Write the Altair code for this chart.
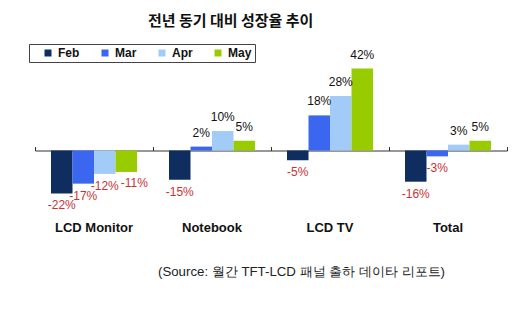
import altair as alt
import pandas as pd

categories = ["LCD Monitor", "Notebook", "LCD TV", "Total"]
months = ["Feb", "Mar", "Apr", "May"]
feb = [-22, -15, -5, -16]
mar = [-17, 2, 18, -3]
apr = [-12, 10, 28, 3]
may = [-11, 5, 42, 5]
colors = ["#0f2d5e", "#3a66f0", "#a3cbf8", "#99cc00"]

title_text = "전년 동기 대비 성장율 추이"
source_text = "(Source: 월간 TFT-LCD 패널 출하 데이타 리포트)"

rows = []
for m, vals in zip(months, [feb, mar, apr, may]):
    for c, v in zip(categories, vals):
        rows.append({"category": c, "month": m, "value": v, "label": f"{v}%"})
df = pd.DataFrame(rows)

H = 156
ymin, ymax = -30, 50
zero_px = H * ymax / (ymax - ymin)

xscale = alt.Scale(paddingInner=0, paddingOuter=0)
xoff = alt.XOffset("month:N", sort=months,
                   scale=alt.Scale(paddingInner=0, paddingOuter=0.744))
yenc = alt.Y("value:Q", scale=alt.Scale(domain=[ymin, ymax]), axis=None)

base = alt.Chart(df)

bars = base.mark_bar().encode(
    x=alt.X("category:N", sort=categories, scale=xscale, title=None,
            axis=alt.Axis(orient="top", labels=False, domain=True, ticks=True,
                          tickBand="extent", tickSize=4, offset=-zero_px,
                          domainColor="#333333", tickColor="#333333",
                          grid=False)),
    xOffset=xoff,
    y=yenc,
    color=alt.Color("month:N", sort=months,
                    scale=alt.Scale(domain=months, range=colors),
                    legend=alt.Legend(orient="none", legendX=-6, legendY=-9,
                                      direction="horizontal", title=None,
                                      symbolType="square", symbolSize=49,
                                      symbolStrokeWidth=0, symbolOffset=10,
                                      labelFont="Liberation Sans",
                                      labelFontSize=12, labelFontWeight="bold",
                                      labelColor="#111111",
                                      columnPadding=9, padding=3,
                                      strokeColor="#444444",
                                      fillColor="white")),
)

neg_text = base.transform_filter(
    "datum.value < 0 && !(datum.month == 'May')"
).mark_text(
    font="Liberation Sans", fontSize=12, color="#c83232",
    baseline="middle", dy=12
).encode(
    x=alt.X("category:N", sort=categories, scale=xscale,
            axis=alt.Axis(orient="bottom", domain=False, ticks=False,
                          labelPadding=12, labelFont="Liberation Sans",
                          labelFontSize=13, labelFontWeight="bold",
                          labelColor="#111111", labelAngle=0,
                          title=source_text, titleFont="Liberation Sans",
                          titleFontSize=13.25, titleFontWeight="normal",
                          titleColor="#222222", titlePadding=31, titleX=266,
                          grid=False)),
    xOffset=xoff,
    y=yenc,
    text="label:N",
)

neg_text_may = base.transform_filter(
    "datum.value < 0 && datum.month == 'May'"
).mark_text(
    font="Liberation Sans", fontSize=12, color="#c83232",
    baseline="middle", dy=11, dx=8
).encode(
    x=alt.X("category:N", sort=categories, scale=xscale, axis=None),
    xOffset=xoff,
    y=yenc,
    text="label:N",
)

pos_text = base.transform_filter("datum.value >= 0").mark_text(
    font="Liberation Sans", fontSize=12, color="#111111",
    baseline="middle", dy=-14
).encode(
    x=alt.X("category:N", sort=categories, scale=xscale, axis=None),
    xOffset=xoff,
    y=yenc,
    text="label:N",
)

chart = alt.layer(bars, neg_text, neg_text_may, pos_text).resolve_axis(
    x="independent"
).properties(
    width=472, height=H,
    autosize=alt.AutoSizeParams(type="none"),
    padding={"left": 35, "top": 53, "right": 13, "bottom": 121},
    background="white",
    title=alt.TitleParams(title_text, anchor="start", frame="group", dx=113,
                          offset=15, font="Noto Sans CJK KR", fontSize=15,
                          fontWeight="bold", color="#111111"),
).configure_view(stroke=None)

chart.save("out.html", embed_options={"renderer": "svg", "actions": False})
